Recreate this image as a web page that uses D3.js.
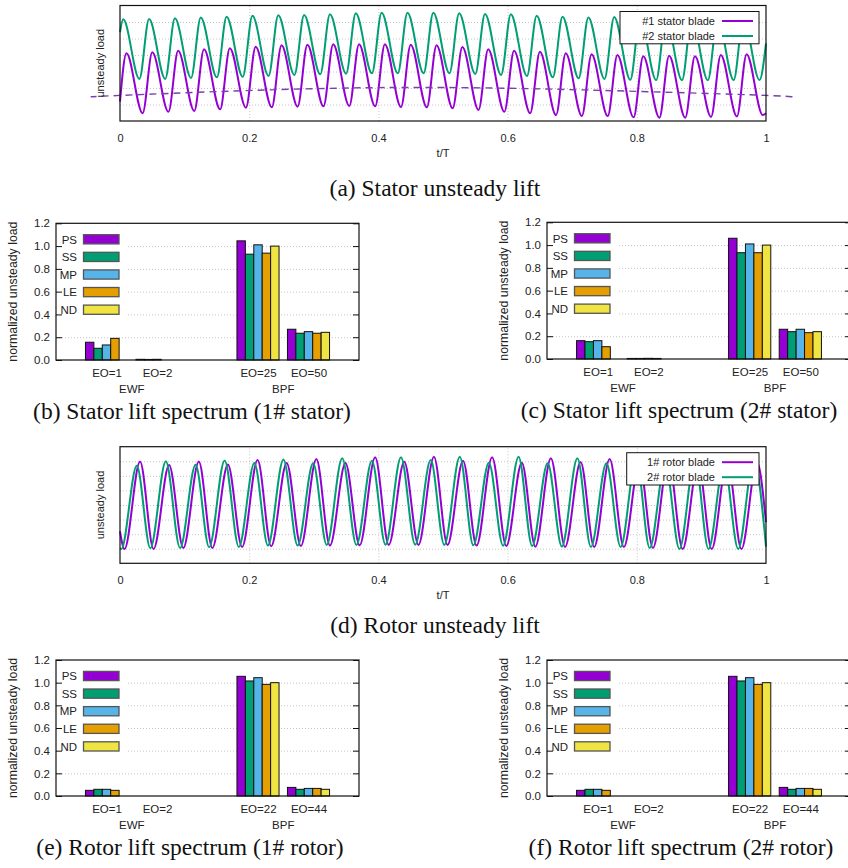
<!DOCTYPE html>
<html><head><meta charset="utf-8">
<script src="https://cdn.jsdelivr.net/npm/d3@7"></script>
<style>
body{margin:0;background:#fff;}
svg{display:block;}
text{font-family:"Liberation Sans",Arial,sans-serif;fill:#222;}
.cap{font-family:"Liberation Serif","Times New Roman",serif;font-size:23.5px;fill:#111;}
</style></head>
<body>
<svg id="c" width="848" height="868"></svg>
<script>
// ---------------- DATA ----------------
// (a) stator unsteady lift, t/T
const s1Start = [0, 1.17], s1End = [1, 0.47];
const s1PeakT = [0.010,0.050,0.090,0.130,0.170,0.210,0.250,0.290,0.330,0.370,0.410,0.450,0.490,0.530,0.570,0.610,0.650,0.690,0.730,0.770,0.810,0.850,0.890,0.930,0.970];
const s1PeakV = [4.10,4.16,4.26,4.35,4.41,4.50,4.59,4.62,4.65,4.65,4.65,4.62,4.59,4.48,4.35,4.26,4.20,4.10,4.04,4.00,3.92,3.96,3.92,4.00,4.05];
const s1TroughT = [0.035,0.075,0.115,0.155,0.195,0.235,0.275,0.315,0.355,0.395,0.435,0.475,0.515,0.555,0.595,0.635,0.675,0.715,0.755,0.795,0.835,0.875,0.915,0.955,0.995];
const s1TroughV = [0.47,0.56,0.61,0.71,0.81,0.83,0.87,0.89,0.91,0.89,0.85,0.83,0.77,0.67,0.56,0.47,0.36,0.30,0.30,0.22,0.20,0.20,0.25,0.28,0.36];

const s2Start = [0, 5.38], s2End = [1, 4.71];
const s2PeakT = [0.005,0.045,0.085,0.125,0.165,0.205,0.245,0.285,0.325,0.365,0.405,0.445,0.485,0.525,0.565,0.605,0.645,0.685,0.725,0.765,0.805,0.845,0.885,0.925,0.965];
const s2PeakV = [6.16,6.18,6.22,6.28,6.32,6.38,6.41,6.42,6.47,6.53,6.56,6.56,6.56,6.53,6.48,6.47,6.38,6.32,6.28,6.30,6.27,6.24,6.22,6.22,6.24];
const s2TroughT = [0.030,0.070,0.110,0.150,0.190,0.230,0.270,0.310,0.350,0.390,0.430,0.470,0.510,0.550,0.590,0.630,0.670,0.710,0.750,0.790,0.830,0.870,0.910,0.950,0.990];
const s2TroughV = [2.55,2.55,2.61,2.65,2.68,2.73,2.79,2.83,2.87,2.89,2.89,2.89,2.89,2.85,2.79,2.73,2.65,2.59,2.55,2.50,2.48,2.47,2.47,2.48,2.48];

const trendT = [-0.042,0,0.25,0.5,0.75,1.0,1.037];
const trendV = [1.47,1.55,1.91,2.03,1.85,1.55,1.42];

// (d) rotor unsteady lift
const r1Start = [0, 2.19], r1End = [1, 2.83];
const r1TroughT = [0.007,0.052,0.098,0.143,0.189,0.234,0.280,0.325,0.371,0.416,0.462,0.507,0.552,0.598,0.643,0.689,0.734,0.780,0.825,0.871,0.916,0.962];
const r1TroughV = [0.98,0.98,1.05,1.05,1.12,1.17,1.19,1.22,1.23,1.26,1.26,1.26,1.22,1.19,1.14,1.12,1.12,1.12,1.05,0.98,0.98,0.98];
const r1PeakT = [0.031,0.076,0.122,0.167,0.213,0.258,0.304,0.349,0.395,0.440,0.486,0.531,0.576,0.622,0.667,0.713,0.758,0.804,0.849,0.895,0.940,0.986];
const r1PeakV = [6.98,6.74,6.98,6.78,7.08,6.88,7.15,6.88,7.27,6.97,7.31,7.04,7.27,6.90,7.20,6.95,7.15,6.91,7.15,6.91,7.12,6.95];

const r2Start = [0, 1.02], r2End = [1, 1.15];
const r2TroughT = [0.002,0.047,0.093,0.138,0.184,0.229,0.275,0.320,0.366,0.411,0.457,0.502,0.547,0.593,0.638,0.684,0.729,0.775,0.820,0.866,0.911,0.957];
const r2TroughV = [0.98,1.03,1.05,1.10,1.12,1.22,1.22,1.26,1.26,1.28,1.28,1.26,1.23,1.21,1.19,1.15,1.12,1.12,1.05,0.98,0.98,0.98];
const r2PeakT = [0.026,0.071,0.117,0.162,0.208,0.253,0.299,0.344,0.390,0.435,0.481,0.526,0.571,0.617,0.662,0.708,0.753,0.799,0.844,0.890,0.935,0.981];
const r2PeakV = [6.69,7.00,6.76,7.06,6.88,7.13,6.86,7.20,7.04,7.27,7.08,7.31,6.90,7.31,6.86,7.20,6.86,7.19,6.88,7.15,6.88,7.15];

const timeTicks = [0,0.2,0.4,0.6,0.8,1];

// spectra
const seriesNames = ["PS","SS","MP","LE","ND"];
const seriesColors = ["#9400d3","#009e73","#56b4e9","#e69f00","#f0e442"];
const statorCats = ["EO=1","EO=2","EO=25","EO=50"];
const rotorCats  = ["EO=1","EO=2","EO=22","EO=44"];
const catPos = [1,2,4,5];
const groupNames = ["EWF","BPF"];
const groupPos = [1.5,4.5];
const specTicks = [0,0.2,0.4,0.6,0.8,1.0,1.2];
// rows: PS, SS, MP, LE, ND ; columns: categories
const specB = [[0.156,0.006,1.046,0.270],[0.103,0.005,0.929,0.235],[0.132,0.006,1.011,0.249],[0.190,0,0.938,0.235],[0,0,1.000,0.243]];
const specC = [[0.161,0.005,1.060,0.261],[0.152,0.005,0.933,0.240],[0.161,0.006,1.010,0.261],[0.108,0.005,0.933,0.231],[0,0,1.000,0.240]];
const specE = [[0.050,0,1.056,0.076],[0.059,0,1.015,0.059],[0.059,0,1.044,0.067],[0.050,0,0.985,0.067],[0,0,1.000,0.059]];
const specF = [[0.050,0,1.056,0.076],[0.059,0,1.015,0.059],[0.059,0,1.044,0.067],[0.050,0,0.985,0.067],[0,0,1.000,0.059]];

// ---------------- DRAW ----------------
const svg = d3.select("#c");
svg.append("rect").attr("width",848).attr("height",868).attr("fill","#fff");

function buildPts(start, end, tA, vA, tB, vB){
  const p=[start];
  tA.forEach((t,i)=>p.push([t,vA[i]]));
  tB.forEach((t,i)=>p.push([t,vB[i]]));
  p.push(end);
  p.sort((a,b)=>a[0]-b[0]);
  return p;
}

function timePanel(cfg){
  const x = d3.scaleLinear().domain([0,1]).range([cfg.x0,cfg.x1]);
  const y = d3.scaleLinear().domain([0,cfg.ny]).range([cfg.y1,cfg.y0]);
  const g = svg.append("g");
  // grid
  const gy = g.append("g").attr("transform",`translate(${cfg.x0},0)`)
    .call(d3.axisLeft(y).tickValues(d3.range(1,cfg.ny)).tickSize(-(cfg.x1-cfg.x0)).tickFormat(""));
  const gx = g.append("g").attr("transform",`translate(0,${cfg.y1})`)
    .call(d3.axisBottom(x).tickValues([0.2,0.4,0.6,0.8]).tickSize(-(cfg.y1-cfg.y0)).tickFormat(""));
  [gy,gx].forEach(a=>{a.select(".domain").remove();
    a.selectAll("line").attr("stroke","#b8b8b8").attr("stroke-width",0.8).attr("stroke-dasharray","1,2");});
  // lines
  const line = d3.line().x(d=>x(d[0])).y(d=>y(d[1])).curve(d3.curveMonotoneX);
  cfg.series.forEach(s=>{
    g.append("path").datum(s.pts).attr("d",line).attr("fill","none")
      .attr("stroke",s.color).attr("stroke-width",2);
  });
  if(cfg.trend){
    const tl = d3.line().x(d=>x(d[0])).y(d=>y(d[1])).curve(d3.curveNatural);
    g.append("path").datum(cfg.trend).attr("d",tl).attr("fill","none")
      .attr("stroke","#7a3fb0").attr("stroke-width",1.4).attr("stroke-dasharray","7,5");
  }
  // frame
  g.append("rect").attr("x",cfg.x0).attr("y",cfg.y0).attr("width",cfg.x1-cfg.x0).attr("height",cfg.y1-cfg.y0)
    .attr("fill","none").attr("stroke","#111").attr("stroke-width",1.2);
  // x axis labels
  const ax = g.append("g").attr("transform",`translate(0,${cfg.y1})`)
    .call(d3.axisBottom(x).tickValues(timeTicks).tickSize(0).tickPadding(13).tickFormat(d3.format("~g")));
  ax.select(".domain").remove();
  ax.selectAll("text").attr("font-size",11).attr("fill","#222").style("font-family",'"Liberation Sans",Arial,sans-serif');
  g.append("text").attr("x",(cfg.x0+cfg.x1)/2).attr("y",cfg.y1+36).attr("text-anchor","middle").attr("font-size",11).text("t/T");
  g.append("text").attr("transform",`translate(${cfg.x0-16},${(cfg.y0+cfg.y1)/2}) rotate(-90)`)
    .attr("text-anchor","middle").attr("font-size",11).text("unsteady load");
  // legend
  const L = cfg.legend;
  g.append("rect").attr("x",L.x).attr("y",cfg.y0+6).attr("width",cfg.x1-7-L.x).attr("height",32.3)
    .attr("fill","#fff").attr("stroke","#111").attr("stroke-width",1);
  cfg.series.forEach((s,i)=>{
    const ry = cfg.y0+15.5+i*15;
    g.append("text").attr("x",cfg.x1-51).attr("y",ry+4).attr("text-anchor","end").attr("font-size",11).text(s.name);
    g.append("line").attr("x1",cfg.x1-44).attr("x2",cfg.x1-13).attr("y1",ry).attr("y2",ry)
      .attr("stroke",s.color).attr("stroke-width",2);
  });
  svg.append("text").attr("class","cap").attr("x",cfg.capX).attr("y",cfg.capY).attr("text-anchor","middle").text(cfg.caption);
}

timePanel({x0:120,x1:766,y0:5.5,y1:121,ny:7,
  series:[{name:"#1 stator blade",color:"#9400d3",pts:buildPts(s1Start,s1End,s1PeakT,s1PeakV,s1TroughT,s1TroughV)},
          {name:"#2 stator blade",color:"#009e73",pts:buildPts(s2Start,s2End,s2PeakT,s2PeakV,s2TroughT,s2TroughV)}],
  trend: trendT.map((t,i)=>[t,trendV[i]]),
  legend:{x:620},
  caption:"(a) Stator unsteady lift", capX:435, capY:196});

timePanel({x0:120,x1:766,y0:446.7,y1:563.3,ny:8,
  series:[{name:"1# rotor blade",color:"#9400d3",pts:buildPts(r1Start,r1End,r1PeakT,r1PeakV,r1TroughT,r1TroughV)},
          {name:"2# rotor blade",color:"#009e73",pts:buildPts(r2Start,r2End,r2PeakT,r2PeakV,r2TroughT,r2TroughV)}],
  legend:{x:626.7},
  caption:"(d) Rotor unsteady lift", capX:435, capY:633});

function specPanel(cfg){
  const x = d3.scaleLinear().domain([0,6]).range([cfg.x0,cfg.x1]);
  const y = d3.scaleLinear().domain([0,1.2]).range([cfg.y1,cfg.y0]);
  const g = svg.append("g");
  const bw = (x(1)-x(0))/6;
  // grid
  const gy = g.append("g").attr("transform",`translate(${cfg.x0},0)`)
    .call(d3.axisLeft(y).tickValues([0.2,0.4,0.6,0.8,1.0]).tickSize(-(cfg.x1-cfg.x0)).tickFormat(""));
  gy.select(".domain").remove();
  gy.selectAll("line").attr("stroke","#b8b8b8").attr("stroke-width",0.8).attr("stroke-dasharray","1,2");
  // legend background
  g.append("rect").attr("x",cfg.x0+1).attr("y",cfg.y0+6).attr("width",71).attr("height",90).attr("fill","#fff");
  // bars
  cfg.data.forEach((row,si)=>{
    row.forEach((v,ci)=>{
      if(v<=0) return;
      const cx = x(catPos[ci]) + (si-2)*bw;
      g.append("rect").attr("x",cx-bw/2).attr("y",y(v)).attr("width",bw).attr("height",y(0)-y(v))
        .attr("fill",seriesColors[si]).attr("stroke","#111").attr("stroke-width",1);
    });
  });
  // legend
  seriesNames.forEach((n,i)=>{
    const ry = cfg.y0+16+i*17.6;
    g.append("text").attr("x",cfg.x0+21).attr("y",ry+4.2).attr("text-anchor","end").attr("font-size",11.5).text(n);
    g.append("rect").attr("x",cfg.x0+27.5).attr("y",ry-4.6).attr("width",35.5).attr("height",9.2)
      .attr("fill",seriesColors[i]).attr("stroke","#555").attr("stroke-width",1.3);
  });
  // frame
  g.append("rect").attr("x",cfg.x0).attr("y",cfg.y0).attr("width",cfg.x1-cfg.x0).attr("height",cfg.y1-cfg.y0)
    .attr("fill","none").attr("stroke","#111").attr("stroke-width",1.2);
  // inner ticks
  const tl = g.append("g").attr("transform",`translate(${cfg.x0},0)`).call(d3.axisLeft(y).tickValues(specTicks).tickSize(-6).tickFormat(""));
  const tr = g.append("g").attr("transform",`translate(${cfg.x1},0)`).call(d3.axisRight(y).tickValues(specTicks).tickSize(-6).tickFormat(""));
  [tl,tr].forEach(a=>{a.select(".domain").remove(); a.selectAll("line").attr("stroke","#111").attr("stroke-width",1);});
  // y labels
  const ay = g.append("g").attr("transform",`translate(${cfg.x0},0)`)
    .call(d3.axisLeft(y).tickValues(specTicks).tickSize(0).tickPadding(6).tickFormat(d3.format(".1f")));
  ay.select(".domain").remove();
  ay.selectAll("text").attr("font-size",11.5).attr("fill","#222").style("font-family",'"Liberation Sans",Arial,sans-serif');
  // x labels
  const ax = g.append("g").attr("transform",`translate(0,${cfg.y1})`)
    .call(d3.axisBottom(x).tickValues(catPos).tickSize(0).tickPadding(9).tickFormat((d,i)=>cfg.cats[i]));
  ax.select(".domain").remove();
  ax.selectAll("text").attr("font-size",11.5).attr("fill","#222").style("font-family",'"Liberation Sans",Arial,sans-serif');
  groupNames.forEach((n,i)=>{
    g.append("text").attr("x",x(groupPos[i])).attr("y",cfg.y1+32.5).attr("text-anchor","middle").attr("font-size",11.5).text(n);
  });
  g.append("text").attr("transform",`translate(${cfg.x0-39},${(cfg.y0+cfg.y1)/2}) rotate(-90)`)
    .attr("text-anchor","middle").attr("font-size",12.3).text("normalized unsteady load");
  svg.append("text").attr("class","cap").attr("x",cfg.capX).attr("y",cfg.y1+59).attr("text-anchor","middle").text(cfg.caption);
}

specPanel({x0:56,x1:359,y0:223.3,y1:360,data:specB,cats:statorCats,caption:"(b) Stator lift spectrum (1# stator)",capX:192});
specPanel({x0:547,x1:851,y0:222.3,y1:359,data:specC,cats:statorCats,caption:"(c) Stator lift spectrum (2# stator)",capX:679});
specPanel({x0:56,x1:359,y0:660,y1:796,data:specE,cats:rotorCats,caption:"(e) Rotor lift spectrum (1# rotor)",capX:190});
specPanel({x0:547,x1:851,y0:660,y1:796,data:specF,cats:rotorCats,caption:"(f) Rotor lift spectrum (2# rotor)",capX:681});
</script>
</body></html>
